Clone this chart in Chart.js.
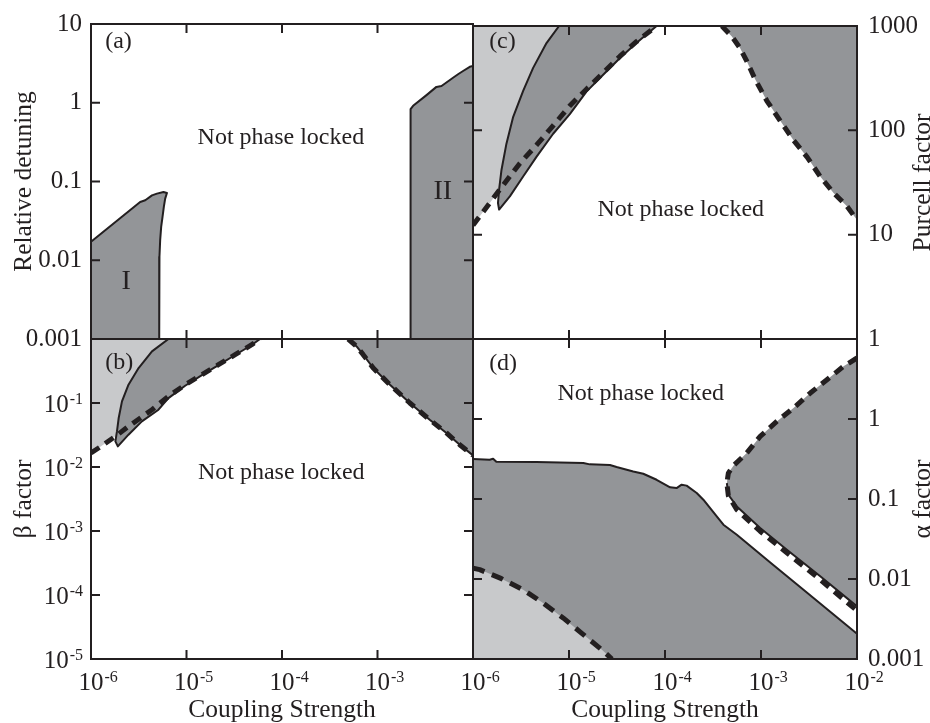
<!DOCTYPE html>
<html>
<head>
<meta charset="utf-8">
<script src="https://cdn.jsdelivr.net/npm/chart.js"></script>
<style>
html,body{margin:0;padding:0;background:#fff;}
#wrap{position:relative;width:930px;height:723px;overflow:hidden;}
#wrap canvas{position:absolute;left:0;top:0;}
</style>
</head>
<body>
<div id="wrap">
<canvas id="panelA" width="930" height="723"></canvas>
<canvas id="panelC" width="930" height="723"></canvas>
<canvas id="panelB" width="930" height="723"></canvas>
<canvas id="panelD" width="930" height="723"></canvas>
</div>
<script>
const SERIF="'Liberation Serif', 'Times New Roman', serif";
const INK='#231f20';
const DARK='#939598';
const LIGHT='#c8c9cb';

// ticks
const couplingInner=[1e-5, 1e-4, 1e-3];
const detuningTicks=[0.001, 0.01, 0.1, 1, 10];
const detuningLabels=['0.001', '0.01', '0.1', '1', '10'];
const purcellTicks=[1, 10, 100, 1000];
const purcellLabels=['1', '10', '100', '1000'];
const betaTicks=[1e-5, 1e-4, 1e-3, 1e-2, 1e-1];
const betaExps=['-5', '-4', '-3', '-2', '-1'];
const alphaTicks=[0.001, 0.01, 0.1, 1];
const alphaLabels=['0.001', '0.01', '0.1', '1'];
const couplingTicksB=[1e-6, 1e-5, 1e-4, 1e-3];
const couplingExpsB=['-6', '-5', '-4', '-3'];
const couplingTicksD=[1e-6, 1e-5, 1e-4, 1e-3, 1e-2];
const couplingExpsD=['-6', '-5', '-4', '-3', '-2'];

// (a) relative detuning
const regionIX=[1e-6, 3.27e-6, 3.70e-6, 4.35e-6, 4.90e-6, 5.74e-6, 6.24e-6, 5.98e-6, 5.79e-6, 5.61e-6, 5.43e-6, 5.30e-6, 5.21e-6, 5.18e-6, 5.18e-6, 1e-6];
const regionIY=[0.0172, 0.0550, 0.0577, 0.0667, 0.0702, 0.0735, 0.0714, 0.0607, 0.0475, 0.0356, 0.0265, 0.0180, 0.0111, 0.00564, 0.001, 0.001];
const regionIIX=[2.22e-3, 2.22e-3, 2.36e-3, 3.26e-3, 4.14e-3, 4.68e-3, 6.18e-3, 6.97e-3, 7.87e-3, 9.25e-3, 1e-2, 1e-2];
const regionIIY=[0.001, 0.83, 0.914, 1.25, 1.59, 1.63, 2.08, 2.30, 2.53, 2.86, 2.92, 0.001];

// (c) Purcell factor
const cDashX=[1e-6, 1.90e-6, 3.07e-6, 4.58e-6, 6.84e-6, 1.02e-5, 1.52e-5, 2.27e-5, 3.40e-5, 5.07e-5, 8.18e-5];
const cDashY=[12.3, 27.0, 48.2, 72.0, 111, 172, 248, 356, 513, 711, 1000];
const cLobeX=[7.88e-6, 5.83e-6, 4.23e-6, 3.33e-6, 2.61e-6, 2.23e-6, 1.98e-6, 1.87e-6, 1.82e-6, 1.87e-6, 2.42e-6, 3.33e-6, 4.58e-6, 6.84e-6, 1.02e-5, 1.52e-5, 2.27e-5, 3.40e-5, 5.07e-5, 8.18e-5];
const cLobeY=[1000, 686, 397, 239, 133, 74.5, 41.7, 27.0, 20.1, 17.4, 23.3, 36.1, 55.7, 92.7, 143, 235, 341, 494, 690, 1000];
const cRightX=[3.91e-4, 4.97e-4, 6.05e-4, 7.11e-4, 8.69e-4, 1.15e-3, 1.58e-3, 2.18e-3, 3.01e-3, 4.14e-3, 5.70e-3, 7.87e-3, 1e-2];
const cRightY=[1000, 794, 615, 460, 308, 192, 124, 80.3, 55.7, 36.1, 25.1, 18.7, 13.8];

// (b) beta factor
const bDashX=[1e-6, 1.20e-6, 1.80e-6, 2.47e-6, 4.35e-6, 6.47e-6, 9.68e-6, 1.45e-5, 2.16e-5, 3.23e-5, 4.82e-5, 5.89e-5];
const bDashY=[0.0166, 0.0198, 0.0301, 0.0431, 0.0786, 0.127, 0.193, 0.277, 0.397, 0.569, 0.815, 1];
const bLobeX=[6.47e-6, 4.35e-6, 3.15e-6, 2.47e-6, 2.11e-6, 1.95e-6, 1.87e-6, 1.80e-6, 1.91e-6, 2.47e-6, 3.41e-6, 5.09e-6, 6.47e-6, 9.68e-6, 1.45e-5, 2.16e-5, 3.23e-5, 4.82e-5, 5.89e-5];
const bLobeY=[1, 0.640, 0.352, 0.193, 0.106, 0.0583, 0.0360, 0.0251, 0.0210, 0.0320, 0.0516, 0.0786, 0.119, 0.186, 0.272, 0.392, 0.562, 0.806, 1];
const bRightX=[4.93e-4, 6.04e-4, 7.08e-4, 9.02e-4, 1.35e-3, 2.18e-3, 3.52e-3, 5.27e-3, 7.26e-3, 1e-2];
const bRightY=[1, 0.766, 0.569, 0.352, 0.193, 0.1, 0.0548, 0.0340, 0.0223, 0.0152];

// (d) alpha factor
const dUpperX=[1e-6, 1.49e-6, 1.62e-6, 1.75e-6, 4.58e-6, 1.41e-5, 1.65e-5, 2.67e-5, 3.13e-5, 4.67e-5, 5.94e-5, 8.18e-5, 1.13e-4, 1.32e-4, 1.49e-4, 1.68e-4, 2.14e-4, 2.51e-4, 2.94e-4, 3.46e-4, 4.06e-4, 5.60e-4, 1.24e-3, 2.77e-3, 1e-2];
const dUpperY=[0.316, 0.310, 0.319, 0.292, 0.290, 0.282, 0.271, 0.266, 0.251, 0.221, 0.207, 0.174, 0.140, 0.137, 0.151, 0.147, 0.119, 0.098, 0.0772, 0.0606, 0.0477, 0.0358, 0.0162, 0.00735, 0.00207];
const dLowX=[1e-6, 1.175e-6, 1.98e-6, 3.33e-6, 5.37e-6, 8.69e-6, 1.35e-5, 2.19e-5, 2.80e-5];
const dLowY=[0.0137, 0.0131, 0.0101, 0.00735, 0.00501, 0.00326, 0.00211, 0.00131, 0.001];
const dWedgeX=[1e-2, 7.24e-3, 4.86e-3, 3.26e-3, 2.18e-3, 1.46e-3, 9.80e-4, 7.11e-4, 5.16e-4, 4.57e-4, 4.41e-4, 4.57e-4, 5.60e-4, 9.80e-4, 1.86e-3, 4.14e-3, 1e-2];
const dWedgeY=[5.79, 4.55, 3.10, 2.11, 1.37, 0.933, 0.606, 0.376, 0.261, 0.211, 0.158, 0.113, 0.0808, 0.0434, 0.0232, 0.0108, 0.00455];
const dWedgeDashY=[5.79, 4.55, 3.10, 2.11, 1.37, 0.933, 0.606, 0.376, 0.261, 0.211, 0.158, 0.110, 0.0735, 0.0396, 0.0213, 0.0098, 0.00402];


function pts(xs, ys) {
    return xs.map((x, i)=> ({x: x, y: ys[i]}));
}

function area(xs, ys, color, edge, order) {
    return {data: pts(xs, ys), fill: 'shape', backgroundColor: color, borderColor: INK,
        borderWidth: edge, pointRadius: 0, order: order};
}

function curve(xs, ys, width, dash, order) {
    return {data: pts(xs, ys), fill: false, borderColor: INK, borderWidth: width,
        borderDash: dash, pointRadius: 0, order: order};
}

function drawPower(ctx, exp, x, y, alignRight) {
    ctx.font='25px ' + SERIF;
    const wBase=ctx.measureText('10').width;
    ctx.font='16px ' + SERIF;
    const wExp=ctx.measureText(exp).width;
    const x0=alignRight ? x - wBase - wExp - 1 : x - wBase / 2;
    ctx.font='25px ' + SERIF;
    ctx.fillText('10', x0, y);
    ctx.font='16px ' + SERIF;
    ctx.fillText(exp, x0 + wBase + 1, y - 8);
}

// frame, inward ticks, notes and power-of-ten labels
const panelDecor={
    id: 'panelDecor',
    afterDraw(chart, args, opts) {
        const ctx=chart.ctx;
        const ca=chart.chartArea;
        const xs=chart.scales.x;
        const ys=chart.scales.y;
        ctx.save();
        ctx.strokeStyle=INK;
        ctx.lineWidth=2;
        ctx.beginPath();
        couplingInner.forEach(v=> {
            const px=xs.getPixelForValue(v);
            ctx.moveTo(px, ca.top); ctx.lineTo(px, ca.top + 9);
            ctx.moveTo(px, ca.bottom); ctx.lineTo(px, ca.bottom - 9);
        });
        opts.yInner.forEach(v=> {
            const py=ys.getPixelForValue(v);
            ctx.moveTo(ca.left, py); ctx.lineTo(ca.left + 9, py);
            ctx.moveTo(ca.right, py); ctx.lineTo(ca.right - 9, py);
        });
        ctx.stroke();
        ctx.strokeRect(ca.left, ca.top, ca.right - ca.left, ca.bottom - ca.top);

        ctx.fillStyle=INK;
        ctx.textBaseline='alphabetic';
        (opts.notes || []).forEach(n=> {
            ctx.font=n.size + 'px ' + SERIF;
            ctx.textAlign=n.align || 'center';
            ctx.fillText(n.text, ca.left + n.fx * (ca.right - ca.left), ca.top + n.fy * (ca.bottom - ca.top));
        });

        ctx.textAlign='left';
        if (opts.powX) {
            opts.powX.ticks.forEach((v, i)=> {
                drawPower(ctx, opts.powX.exps[i], xs.getPixelForValue(v), 690, false);
            });
        }
        if (opts.powY) {
            opts.powY.ticks.forEach((v, i)=> {
                drawPower(ctx, opts.powY.exps[i], ca.left - 8, ys.getPixelForValue(v) + 9, true);
            });
        }
        if (opts.sideTitle) {
            ctx.save();
            ctx.translate(930, (ca.top + ca.bottom) / 2);
            ctx.rotate(-Math.PI / 2);
            ctx.textAlign='center';
            ctx.font='25.5px ' + SERIF;
            ctx.fillText(opts.sideTitle, 0, 0);
            ctx.restore();
        }
        ctx.restore();
    }
};

function xAxis(bottom) {
    const ax={type: 'logarithmic', min: 1e-6, max: 1e-2, display: bottom,
        grid: {display: false, drawTicks: false}, border: {display: false},
        ticks: {display: false}};
    if (bottom) {
        ax.afterFit=s=> { s.height=64; };
        ax.title={display: true, text: 'Coupling Strength', color: INK,
            font: {family: SERIF, size: 25.5}, padding: {top: 0, bottom: -3}};
    }
    return ax;
}

function yAxis(pos, min, max, ticks, labels, title) {
    const ax={type: 'logarithmic', position: pos, min: min, max: max,
        grid: {display: false, drawTicks: false}, border: {display: false},
        afterBuildTicks: s=> { s.ticks=ticks.map(v=> ({value: v})); },
        afterFit: s=> { s.width=pos==='left' ? 91 : 73; },
        ticks: {display: !!labels, autoSkip: false, padding: pos==='left' ? 9 : 11, color: INK,
            font: {family: SERIF, size: 25}, callback: (v, i)=> labels ? labels[i] : ''}};
    if (title) {
        ax.title={display: true, text: title, color: INK,
            font: {family: SERIF, size: 25.5}, padding: {top: 9, bottom: 0}};
    }
    return ax;
}

function makePanel(id, pad, datasets, scales, decor) {
    return new Chart(document.getElementById(id), {
        type: 'line',
        data: {datasets: datasets},
        options: {
            responsive: false,
            animation: false,
            devicePixelRatio: 1,
            events: [],
            layout: {padding: pad},
            elements: {line: {tension: 0, borderJoinStyle: 'round'}, point: {radius: 0}},
            plugins: {legend: {display: false}, tooltip: {enabled: false}, panelDecor: decor},
            scales: scales
        },
        plugins: [panelDecor]
    });
}

makePanel('panelA', {left: 0, top: 23, right: 457, bottom: 384}, [
    area(regionIX, regionIY, DARK, 2, 2),
    area(regionIIX, regionIIY, DARK, 2, 2)
], {
    x: xAxis(false),
    y: yAxis('left', 0.001, 10, detuningTicks, detuningLabels, 'Relative detuning')
}, {
    yInner: [0.01, 0.1, 1],
    notes: [
        {text: '(a)', fx: 0.037, fy: 0.076, size: 24, align: 'left'},
        {text: 'Not phase locked', fx: 0.497, fy: 0.381, size: 24},
        {text: 'I', fx: 0.092, fy: 0.84, size: 28},
        {text: 'II', fx: 0.921, fy: 0.557, size: 28}
    ]
});

makePanel('panelC', {left: 473, top: 23, right: 0, bottom: 384}, [
    area(cDashX.concat([1e-6]), cDashY.concat([1000]), LIGHT, 0, 4),
    area(cLobeX, cLobeY, DARK, 2, 3),
    area(cRightX.concat([1e-2]), cRightY.concat([1000]), DARK, 0, 3),
    curve(cDashX, cDashY, 5, [10, 7], 1),
    curve(cRightX, cRightY, 5, [10, 7], 1)
], {
    x: xAxis(false),
    y: yAxis('right', 1, 1000, purcellTicks, purcellLabels, null)
}, {
    yInner: [10, 100],
    sideTitle: 'Purcell factor',
    notes: [
        {text: '(c)', fx: 0.042, fy: 0.071, size: 24, align: 'left'},
        {text: 'Not phase locked', fx: 0.541, fy: 0.608, size: 24}
    ]
});

makePanel('panelB', {left: 0, top: 339, right: 457, bottom: 0}, [
    area(bDashX.concat([1e-6]), bDashY.concat([1]), LIGHT, 0, 4),
    area(bLobeX, bLobeY, DARK, 2, 3),
    area(bRightX.concat([1e-2]), bRightY.concat([1]), DARK, 2, 3),
    curve(bDashX, bDashY, 5, [10, 7], 1),
    curve(bRightX, bRightY, 5, [10, 7], 1)
], {
    x: xAxis(true),
    y: yAxis('left', 1e-5, 1, betaTicks, null, '\u03b2 factor')
}, {
    yInner: [1e-4, 1e-3, 1e-2, 1e-1],
    powX: {ticks: couplingTicksB, exps: couplingExpsB},
    powY: {ticks: betaTicks, exps: betaExps},
    notes: [
        {text: '(b)', fx: 0.037, fy: 0.093, size: 24, align: 'left'},
        {text: 'Not phase locked', fx: 0.498, fy: 0.436, size: 24}
    ]
});

makePanel('panelD', {left: 473, top: 339, right: 0, bottom: 0}, [
    area(dUpperX.concat([1e-2, 1e-6]), dUpperY.concat([0.001, 0.001]), DARK, 2, 5),
    area(dLowX.concat([1e-6]), dLowY.concat([0.001]), LIGHT, 0, 4),
    area(dWedgeX, dWedgeY, DARK, 0, 4),
    curve(dWedgeX.slice(10), dWedgeY.slice(10), 2, [], 2),
    curve(dLowX, dLowY, 5, [12, 8], 1),
    curve(dWedgeX, dWedgeDashY, 5, [10, 7], 1)
], {
    x: xAxis(true),
    y: yAxis('right', 0.001, 10, alphaTicks, alphaLabels, null)
}, {
    yInner: [0.01, 0.1, 1],
    sideTitle: '\u03b1 factor',
    powX: {ticks: couplingTicksD, exps: couplingExpsD},
    notes: [
        {text: '(d)', fx: 0.042, fy: 0.098, size: 24, align: 'left'},
        {text: 'Not phase locked', fx: 0.437, fy: 0.191, size: 24}
    ]
});
</script>
</body>
</html>
